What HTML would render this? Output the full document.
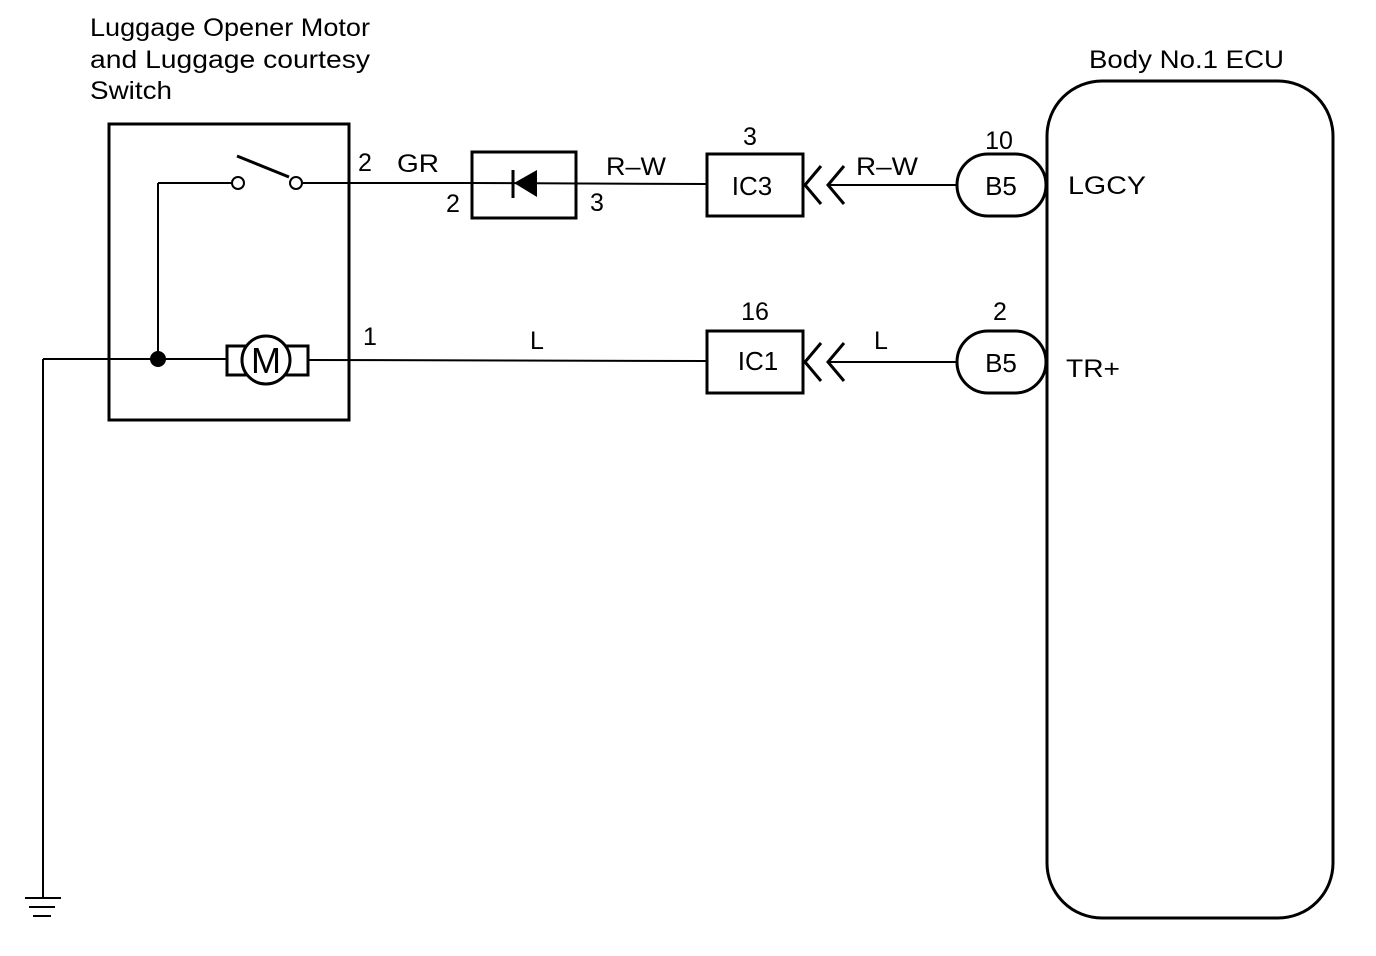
<!DOCTYPE html>
<html><head><style>
html,body{margin:0;padding:0;background:#fff;}
svg{display:block;}
text{font-family:"Liberation Sans",sans-serif;fill:#000;}
</style></head><body>
<svg width="1376" height="956" viewBox="0 0 1376 956" xmlns="http://www.w3.org/2000/svg">
<g stroke="#000" fill="none">
<rect x="109" y="124" width="240" height="296" stroke-width="3"/>
<line x1="158" y1="183" x2="232" y2="183" stroke-width="2"/>
<line x1="158" y1="183" x2="158" y2="358" stroke-width="2"/>
<circle cx="238" cy="183" r="6" stroke-width="2" fill="#fff"/>
<circle cx="296" cy="183" r="6" stroke-width="2" fill="#fff"/>
<line x1="237" y1="156" x2="289" y2="177" stroke-width="3"/>
<line x1="302" y1="183" x2="472" y2="183" stroke-width="2"/>
<line x1="43" y1="359" x2="226" y2="359" stroke-width="2"/>
<rect x="227" y="346" width="81" height="29" stroke-width="3"/>
<circle cx="266" cy="360" r="24" stroke-width="3" fill="#fff"/>
<line x1="308" y1="360" x2="706" y2="361" stroke-width="2"/>
<line x1="43" y1="359" x2="43" y2="898" stroke-width="2"/>
<line x1="25" y1="898" x2="61" y2="898" stroke-width="2"/>
<line x1="29" y1="907" x2="55" y2="907" stroke-width="2"/>
<line x1="33" y1="916" x2="51" y2="916" stroke-width="2"/>
<rect x="472" y="152" width="104" height="66" stroke-width="3"/>
<line x1="472" y1="183" x2="706" y2="184" stroke-width="2"/>
<line x1="513" y1="170" x2="513" y2="198" stroke-width="3"/>
<rect x="707" y="154" width="96" height="62" stroke-width="3"/>
<polyline points="821,166 805,185 821,204" stroke-width="3"/>
<polyline points="844,166 828,185 844,204" stroke-width="3"/>
<line x1="828" y1="185" x2="957" y2="185" stroke-width="2"/>
<path d="M988,154 H1015 A31,31 0 0 1 1015,216 H988 A31,31 0 0 1 988,154 Z" stroke-width="3"/>
<rect x="707" y="331" width="96" height="62" stroke-width="3"/>
<polyline points="821,343 805,362 821,381" stroke-width="3"/>
<polyline points="844,343 828,362 844,381" stroke-width="3"/>
<line x1="828" y1="362" x2="957" y2="362" stroke-width="2"/>
<path d="M988,331 H1015 A31,31 0 0 1 1015,393 H988 A31,31 0 0 1 988,331 Z" stroke-width="3"/>
<rect x="1047" y="81" width="286" height="837" rx="55" ry="55" stroke-width="3"/>
</g>
<circle cx="158" cy="359" r="8" fill="#000"/>
<polygon points="514,183 537,170 537,197" fill="#000"/>
<text x="90" y="36" font-size="25" textLength="280" lengthAdjust="spacingAndGlyphs">Luggage Opener Motor</text>
<text x="90" y="68" font-size="25" textLength="280" lengthAdjust="spacingAndGlyphs">and Luggage courtesy</text>
<text x="90" y="99" font-size="25" textLength="82" lengthAdjust="spacingAndGlyphs">Switch</text>
<text x="1089" y="68" font-size="25" textLength="195" lengthAdjust="spacingAndGlyphs">Body No.1 ECU</text>
<text x="266" y="373" font-size="36" text-anchor="middle">M</text>
<text x="358" y="171" font-size="25">2</text>
<text x="397" y="172" font-size="25" textLength="42" lengthAdjust="spacingAndGlyphs">GR</text>
<text x="446" y="212" font-size="25">2</text>
<text x="590" y="211" font-size="25">3</text>
<text x="606" y="175" font-size="25" textLength="60" lengthAdjust="spacingAndGlyphs">R–W</text>
<text x="363" y="345" font-size="25">1</text>
<text x="530" y="349" font-size="25">L</text>
<text x="750" y="145" font-size="25" text-anchor="middle">3</text>
<text x="752" y="195" font-size="26" text-anchor="middle">IC3</text>
<text x="856" y="175" font-size="25" textLength="62" lengthAdjust="spacingAndGlyphs">R–W</text>
<text x="999" y="149" font-size="25" text-anchor="middle">10</text>
<text x="1001" y="195" font-size="26" text-anchor="middle">B5</text>
<text x="1068" y="194" font-size="25" textLength="78" lengthAdjust="spacingAndGlyphs">LGCY</text>
<text x="755" y="320" font-size="25" text-anchor="middle">16</text>
<text x="758" y="370" font-size="26" text-anchor="middle">IC1</text>
<text x="874" y="349" font-size="25">L</text>
<text x="1000" y="320" font-size="25" text-anchor="middle">2</text>
<text x="1001" y="372" font-size="26" text-anchor="middle">B5</text>
<text x="1066" y="377" font-size="25" textLength="54" lengthAdjust="spacingAndGlyphs">TR+</text>
</svg>
</body></html>
